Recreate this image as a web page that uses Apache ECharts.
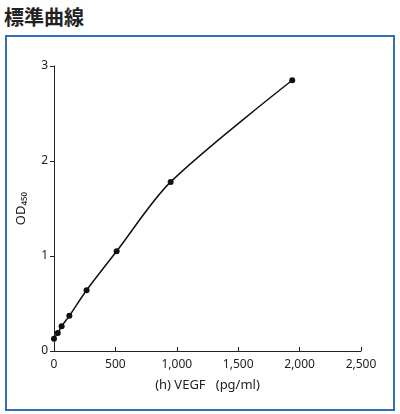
<!DOCTYPE html><html><head><meta charset="utf-8"><script src="https://cdn.jsdelivr.net/npm/echarts@6/dist/echarts.min.js"></script>
<style>body{margin:0}#t{position:absolute;left:4px;top:2px;font:bold 20px "Noto Sans CJK JP";color:#222}#b{position:absolute;left:5px;top:35px;width:386px;height:372px;border:2px solid #2f6fb8}#c{position:absolute;left:0;top:0;width:400px;height:414px}</style></head><body>
<div id="t">標準曲線</div><div id="b"></div><div id="c"></div>
<script>
const conc=[0,31,62,125,265,510,950,1940];
const od=[0.13,0.19,0.26,0.37,0.64,1.05,1.78,2.85];
const xTicks=[0,500,1000,1500,2000,2500];
const ch=echarts.init(document.getElementById('c'));
ch.setOption({animation:false,
grid:{left:54,right:39,top:66,bottom:63},
xAxis:{type:'value',min:0,max:2500,interval:500,name:'(h) VEGF   (pg/ml)',nameLocation:'middle',nameGap:28,
nameTextStyle:{fontSize:13,color:'#222',fontFamily:'Noto Sans'},
axisLine:{lineStyle:{color:'#222'}},axisTick:{inside:true,length:4,lineStyle:{color:'#222'}},splitLine:{show:false},
axisLabel:{fontSize:12,color:'#222',fontFamily:'Noto Sans',formatter:v=>v.toLocaleString('en-US')}},
yAxis:{type:'value',min:0,max:3,interval:1,name:'OD₄₅₀',nameLocation:'middle',nameGap:26,
nameTextStyle:{fontSize:13,color:'#222',fontFamily:'Noto Sans'},
axisLine:{show:true,lineStyle:{color:'#222'}},axisTick:{show:true,length:4,lineStyle:{color:'#222'}},splitLine:{show:false},
axisLabel:{fontSize:12,color:'#222',margin:6,fontFamily:'Noto Sans'}},
series:[{type:'line',smooth:0.3,data:conc.map((c,i)=>[c,od[i]]),symbol:'circle',symbolSize:6,
itemStyle:{color:'#111'},lineStyle:{color:'#111',width:1.5}}]});
</script></body></html>
